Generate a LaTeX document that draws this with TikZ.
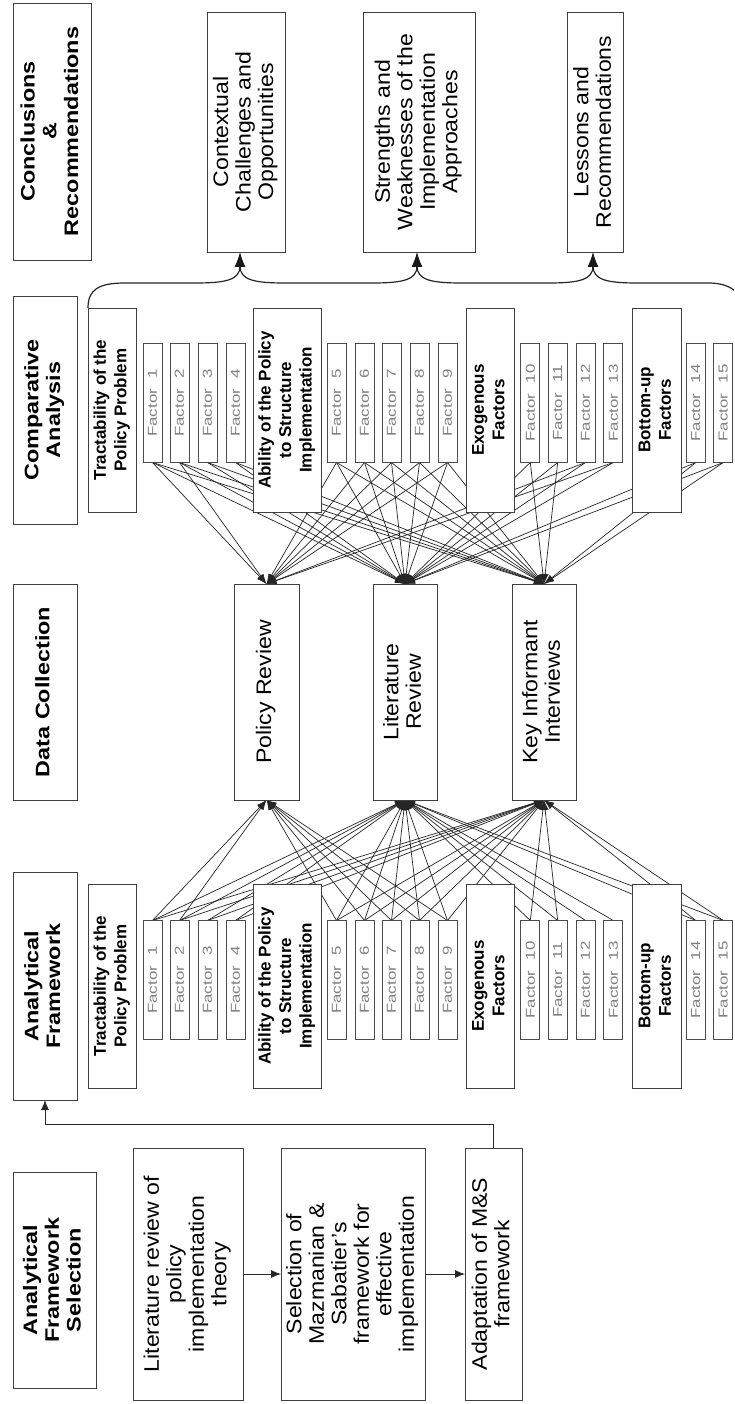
\documentclass[tikz,border=0pt]{standalone}
\usepackage{fontspec}
\usepackage{graphicx}
\setmainfont{Liberation Sans}
\usetikzlibrary{arrows.meta,backgrounds}

% #1 font, #2 stretch along the text, #3 lines
\newcommand{\vtx}[3]{\rotatebox{90}{\scalebox{#2}[1]{#1\begin{tabular}{@{}c@{}}#3\end{tabular}}}}
\newcommand{\hdtxt}[1]{\vtx{\bfseries\fontsize{19.5}{21.7}\selectfont}{1.2}{#1}}
\newcommand{\gptxt}[1]{\vtx{\bfseries\fontsize{17}{20.5}\selectfont}{1.0}{#1}}
\newcommand{\dttxt}[1]{\vtx{\fontsize{21}{22.5}\selectfont}{1.1}{#1}}
\newcommand{\fctxt}[1]{\rotatebox{90}{\scalebox{1.3}[1]{\fontsize{13}{14}\selectfont\color{black!50}Factor\hspace{8pt}#1}}}

\begin{document}
\begin{tikzpicture}[x=1pt,y=-1pt,
  box/.style={draw=black!75, line width=0.9pt, fill=white, inner sep=0pt, outer sep=0pt},
  fbox/.style={box, draw=black!70, minimum width=19pt, minimum height=119pt},
  conn/.style={draw=black!85, line width=0.7pt, -{Latex[length=10pt,width=7pt]}},
  arr/.style={draw=black!85, line width=0.9pt, -{Latex[length=10pt,width=8pt]}},
  bigarr/.style={draw=black!90, line width=1pt, -{Latex[length=15pt,width=11pt]}},
  brace/.style={draw=black!85, line width=1.2pt}]
\useasboundingbox (0,0) rectangle (734,1404);
\clip (0,0) rectangle (734,1404);

% column headers
\node[box, minimum width=78pt, minimum height=257pt] (concl) at (52,131.5) {\hdtxt{Conclusions\\\&\\Recommendations}};
\node[box, minimum width=64pt, minimum height=228pt] (comp) at (45,410) {\hdtxt{Comparative\\Analysis}};
\node[box, minimum width=64pt, minimum height=216pt] (datac) at (45,692) {\hdtxt{Data Collection}};
\node[box, minimum width=64pt, minimum height=228pt] (anf) at (45,986) {\hdtxt{Analytical\\Framework}};
\node[box, minimum width=83pt, minimum height=216pt] (afs) at (54.5,1280) {\hdtxt{Analytical\\Framework\\Selection}};

% conclusions
\node[box, minimum width=78pt, minimum height=240pt] (ctx) at (246,132) {\dttxt{Contextual\\Challenges and\\Opportunities}};
\node[box, minimum width=112pt, minimum height=240pt] (sw) at (419,132) {\dttxt{Strengths and\\Weaknesses of the\\Implementation\\Approaches}};
\node[box, minimum width=56pt, minimum height=240pt] (les) at (595,132) {\dttxt{Lessons and\\Recommendations}};

% group boxes (top = comparative analysis, bottom = analytical framework)
\foreach \p/\y in {t/410,b/986}{
  \node[box, minimum width=48pt, minimum height=204pt] (\p Tr) at (112,\y) {\gptxt{Tractability of the\\Policy Problem}};
  \node[box, minimum width=68pt, minimum height=204pt] (\p Ab) at (287,\y) {\gptxt{Ability of the Policy\\to Structure\\Implementation}};
  \node[box, minimum width=48pt, minimum height=204pt] (\p Ex) at (490,\y) {\gptxt{Exogenous\\Factors}};
  \node[box, minimum width=49pt, minimum height=204pt] (\p Bu) at (656.5,\y) {\gptxt{Bottom-up\\Factors}};
}

% factor boxes
\foreach \i/\x in {1/152.5,2/179.5,3/207.5,4/235.5,5/336.5,6/364.5,7/391.5,8/419.5,9/447.5,10/530.3,11/557.7,12/585.5,13/613.3,14/695.8,15/723.3}{
  \node[fbox] (t\i) at (\x,403) {\fctxt{\i}};
  \node[fbox] (b\i) at (\x,980) {\fctxt{\i}};
}

% data collection
\node[box, minimum width=65pt, minimum height=216pt] (pr) at (266.5,692) {\dttxt{Policy Review}};
\node[box, minimum width=64pt, minimum height=216pt] (lr) at (405,692) {\dttxt{Literature\\Review}};
\node[box, minimum width=64pt, minimum height=216pt] (ki) at (544,692) {\dttxt{Key Informant\\Interviews}};

% framework selection
\node[box, minimum width=110pt, minimum height=252pt] (lit) at (188,1274) {\dttxt{Literature review of\\policy\\implementation\\theory}};
\node[box, minimum width=144pt, minimum height=252pt] (sel) at (353,1274) {\dttxt{Selection of\\Mazmanian \&\\Sabatier's\\framework for\\effective\\implementation}};
\node[box, minimum width=57pt, minimum height=252pt] (adp) at (493.5,1274) {\dttxt{Adaptation of M\&S\\framework}};

\draw[arr] (lit.east) -- (sel.west);
\draw[arr] (sel.east) -- (adp.west);
\draw[arr] (adp.north) -- ++(0,-24) -| (anf.south);

% brace and arrows to conclusions
\coordinate (k1) at (240,266);
\coordinate (k2) at (417,266);
\coordinate (k3) at (593,266);
\draw[brace] (tTr.north west) .. controls (88,290) and (98,283) .. (125,283) -- (195,283)
  .. controls (226,283) and (240,280) .. (k1) .. controls (240,280) and (254,283) .. (285,283) -- (372,283)
  .. controls (403,283) and (417,280) .. (k2) .. controls (417,280) and (431,283) .. (462,283) -- (548,283)
  .. controls (579,283) and (593,280) .. (k3) .. controls (593,280) and (607,283) .. (638,283) -- (708,283)
  .. controls (730,283) and (742,292) .. (744,310);
\draw[bigarr] (k1) -- (k1 |- ctx.south);
\draw[bigarr] (k2) -- (k2 |- sw.south);
\draw[bigarr] (k3) -- (k3 |- les.south);

% connectors
\begin{pgfonlayer}{background}
\fill[white] (0,0) rectangle (734,1404);
\foreach \i in {1,2,5,6,7,8,9} \draw[conn] (b\i.north) -- (pr.south);
\foreach \i in {1,2,3,4,5,6,7,8,9,10,11,12,13,14,15} \draw[conn] (b\i.north) -- (lr.south);
\foreach \i in {1,2,3,4,5,6,7,8,9,10,11,14,15} \draw[conn] (b\i.north) -- (ki.south);
\foreach \i in {1,2,5,6,7,8,9,12,13} \draw[conn] (t\i.south) -- (pr.north);
\foreach \i in {1,2,3,4,5,6,7,8,9,10,11,12,13,14,15} \draw[conn] (t\i.south) -- (lr.north);
\foreach \i in {1,2,3,4,5,6,7,8,9,10,11,14,15} \draw[conn] (t\i.south) -- (ki.north);
\end{pgfonlayer}
\end{tikzpicture}
\end{document}
